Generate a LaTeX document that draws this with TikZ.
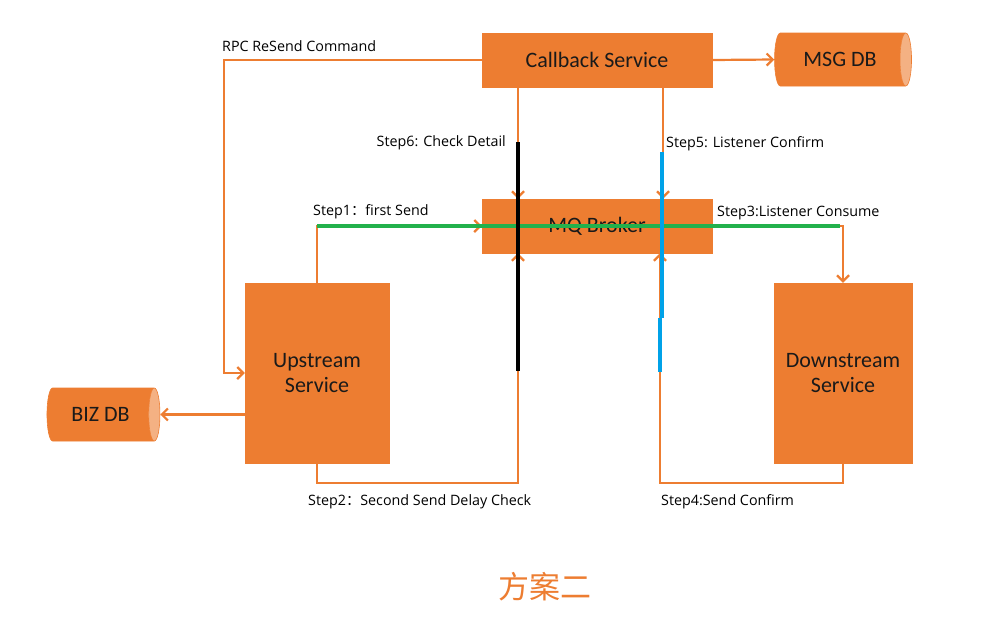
\documentclass[tikz,border=0pt]{standalone}
\usepackage{fontspec}
\setmainfont{Carlito}
\newfontfamily\lblfont{Open Sans}
\newfontfamily\cjkfont{Noto Sans CJK SC}
\usetikzlibrary{shapes.geometric,arrows.meta}
\definecolor{org}{HTML}{ED7D31}
\definecolor{orglight}{HTML}{F4B183}
\definecolor{grn}{HTML}{22B14C}
\definecolor{blu}{HTML}{00A2E8}
\definecolor{txt}{HTML}{1A1A1A}
\tikzset{
  box/.style={rectangle, fill=org, draw=org, inner sep=0pt, text=txt, font=\fontsize{22}{25}\selectfont, align=center},
  db/.style={cylinder, shape border rotate=0, cylinder uses custom fill, cylinder body fill=org, cylinder end fill=orglight, draw=org, line width=0.6pt, inner sep=0pt, text=txt, font=\fontsize{22}{25}\selectfont, shape aspect=0.8},
  arr/.style={draw=org, line width=2.2pt, -{Straight Barb[length=6pt,width=12pt]}},
  lbl/.style={inner sep=0pt, text=black, font=\lblfont\fontsize{14.3}{16}\selectfont},
  over/.style={line width=4pt}
}
\begin{document}
\begin{tikzpicture}[x=1pt,y=-1pt]
\useasboundingbox (0,0) rectangle (986,627);
\node[box, minimum width=230pt, minimum height=54pt] (cb) at (597,60) {Callback Service};
\node[box, minimum width=230pt, minimum height=54pt] (mq) at (597,226) {MQ Broker};
\node[box, minimum width=144pt, minimum height=180pt] (up) at (317,373) {Upstream\\Service};
\node[box, minimum width=138pt, minimum height=180pt] (down) at (843,373) {Downstream\\Service};
\node[db, minimum width=53pt, minimum height=137pt] (msg) at (840,59.5) {MSG DB};
\node[db, minimum width=53pt, minimum height=113pt] (biz) at (100.5,414.5) {BIZ DB};

\coordinate (rpcc) at (224,60);
\draw[arr] (cb.east) -- (msg.west);
\draw[arr] (cb.west) -- (rpcc) |- (up.west);
\draw[arr] ([xshift=-79pt]cb.south) -- ([xshift=-79pt]mq.north);
\draw[arr] ([xshift=66pt]cb.south) -- ([xshift=66pt]mq.north);
\draw[arr] (up.north) |- (mq.west);
\draw[arr] (mq.east) -| (down.north);
\draw[arr] (up.south) -- ++(0,20) -| ([xshift=-79pt]mq.south);
\draw[arr] (down.south) -- ++(0,20) -| ([xshift=63pt]mq.south);
\draw[arr] (up.west |- biz.east) -- (biz.east);

\node[lbl, anchor=west] (l0) at (222,46) {RPC ReSend Command};
\node[lbl, anchor=east] (l6) at (506,143) {Step6: Check Detail};
\node[lbl, anchor=west] (l5) at (666,144) {Step5: Listener Confirm};
\node[lbl, anchor=west] (l1) at (313,212) {Step1{\cjkfont ：}first Send};
\node[lbl, anchor=west] (l3) at (717,213) {Step3:Listener Consume};
\node[lbl, anchor=west] (l2) at (308,502) {Step2{\cjkfont ：}Second Send Delay Check};
\node[lbl, anchor=west] (l4) at (661,502) {Step4:Send Confirm};
\node[inner sep=0pt, text=org, font=\cjkfont\fontsize{31}{34}\selectfont] (title) at (545,587) {方案二};

\draw[over, grn] (317,226) -- (840,226);
\draw[over, black] (518,142) -- (518,371);
\draw[over, blu] (662,152) -- (662,318);
\draw[over, blu] (660,318) -- (660,372);
\end{tikzpicture}
\end{document}
